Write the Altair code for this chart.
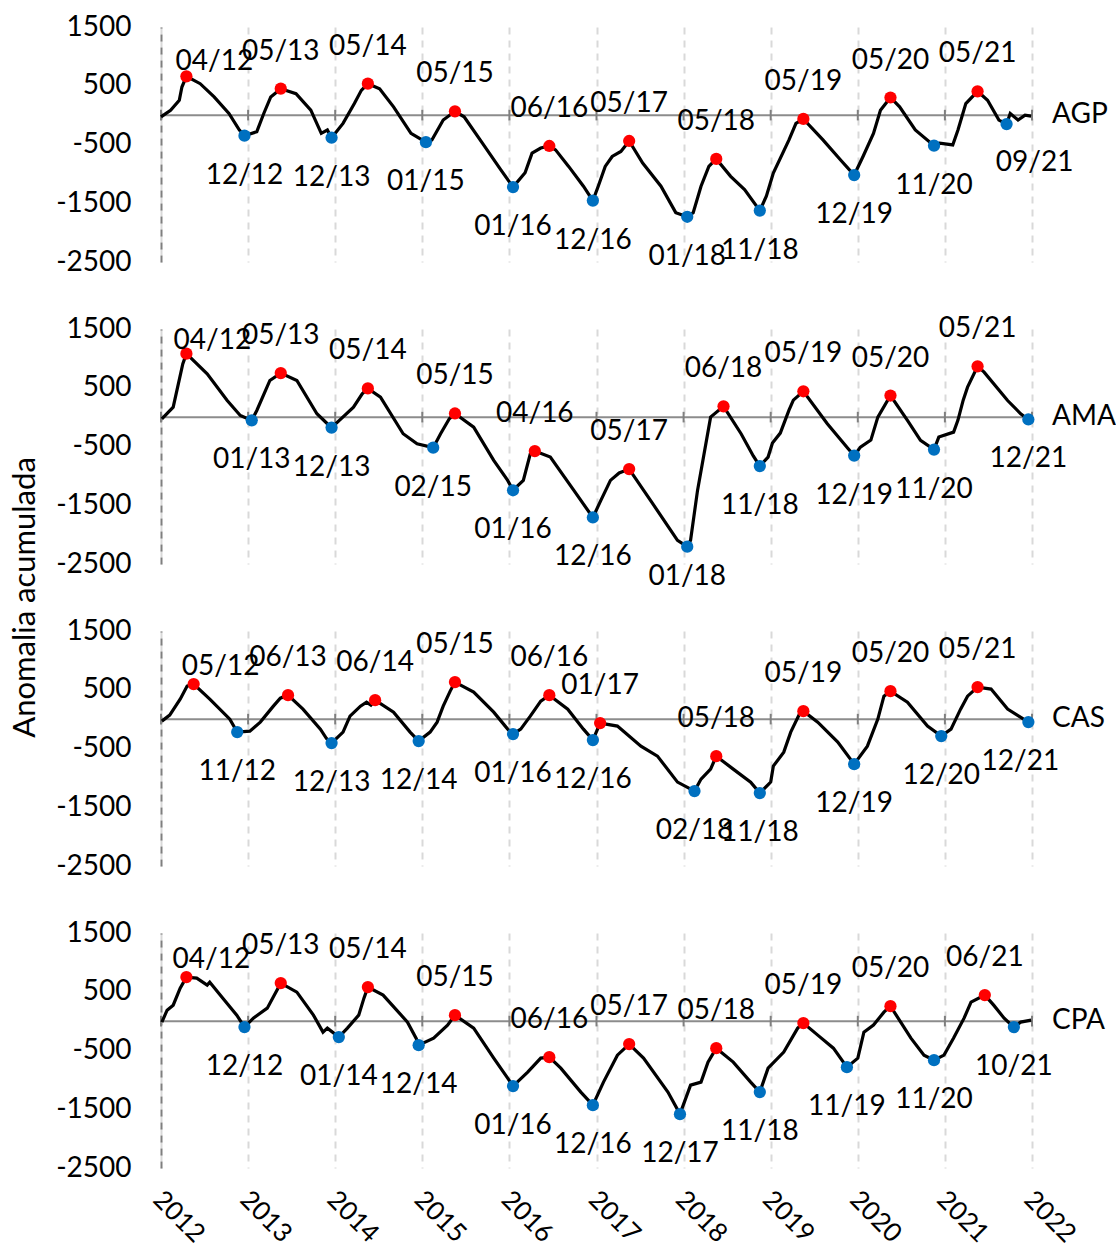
import altair as alt
import pandas as pd

YEARS = list(range(2012, 2023))
Y_TICKS = [-2500, -1500, -500, 500, 1500]

# ---------------- AGP ----------------
AGP_EXT_LABELS = ["04/12", "12/12", "05/13", "12/13", "05/14", "01/15", "05/15", "01/16", "06/16", "12/16",
                  "05/17", "01/18", "05/18", "11/18", "05/19", "12/19", "05/20", "11/20", "05/21", "09/21"]
AGP_EXT_VALUES = [660, -350, 450, -385, 535, -460, 65, -1225, -525, -1455,
                  -440, -1730, -745, -1625, -65, -1020, 300, -520, 405, -152]
AGP_LINE_X = [2012.00, 2012.11, 2012.21, 2012.24, 2012.45, 2012.61, 2012.78, 2012.90, 2013.10, 2013.18,
              2013.26, 2013.55, 2013.72, 2013.84, 2013.91, 2014.09, 2014.22, 2014.30, 2014.51, 2014.67,
              2014.87, 2015.11, 2015.24, 2015.48, 2015.69, 2015.90, 2016.18, 2016.26, 2016.36, 2016.53,
              2016.68, 2016.85, 2017.02, 2017.10, 2017.18, 2017.28, 2017.53, 2017.74, 2017.91, 2018.11,
              2018.20, 2018.29, 2018.54, 2018.70, 2018.95, 2019.03, 2019.21, 2019.29, 2019.60, 2019.80,
              2020.06, 2020.18, 2020.26, 2020.48, 2020.66, 2020.94, 2021.09, 2021.15, 2021.24, 2021.49,
              2021.62, 2021.75, 2021.84, 2021.92, 2021.99]
AGP_LINE_Y = [-30, 84, 253, 478, 535, 310, 28, -253, -282, 28,
              310, 366, 84, -310, -253, -141, 197, 422, 450, 141,
              -310, -422, -84, -28, -478, -929, -980, -647, -560, -591,
              -873, -1210, -1210, -873, -704, -619, -816, -1210, -1660, -1660,
              -1210, -873, -1041, -1267, -1379, -985, -422, -141, -422, -760,
              -704, -310, 84, 141, -253, -478, -507, -253, 197, 253,
              -84, 28, -84, 0, -17]

# ---------------- AMA ----------------
AMA_EXT_LABELS = ["04/12", "01/13", "05/13", "12/13", "05/14", "02/15", "05/15", "01/16", "04/16", "12/16",
                  "05/17", "01/18", "06/18", "11/18", "05/19", "12/19", "05/20", "11/20", "05/21", "12/21"]
AMA_EXT_VALUES = [1080, -55, 750, -178, 488, -520, 62, -1245, -578, -1708,
                  -885, -2205, 183, -833, 440, -655, 368, -552, 865, -40]
AMA_LINE_X = [2012.01, 2012.14, 2012.25, 2012.53, 2012.76, 2012.91, 2013.10, 2013.25, 2013.56, 2013.79,
              2013.91, 2014.21, 2014.31, 2014.52, 2014.78, 2014.94, 2015.21, 2015.31, 2015.59, 2015.82,
              2015.98, 2016.16, 2016.24, 2016.47, 2016.74, 2017.05, 2017.16, 2017.26, 2017.62, 2017.93,
              2018.08, 2018.16, 2018.31, 2018.66, 2018.80, 2018.97, 2019.02, 2019.11, 2019.21, 2019.26,
              2019.65, 2019.89, 2020.03, 2020.15, 2020.23, 2020.57, 2020.72, 2020.93, 2021.10, 2021.15,
              2021.21, 2021.26, 2021.45, 2021.72, 2021.87]
AMA_LINE_Y = [-28, 170, 907, 737, 283, 28, 113, 624, 624, 57,
              -113, 170, 397, 340, -283, -454, -283, -28, -170, -737,
              -1077, -1077, -624, -680, -1247, -1417, -1077, -950, -1417, -2097,
              -2097, -1247, 0, -283, -660, -680, -442, -272, 119, 289,
              -113, -539, -510, -391, 0, -57, -397, -340, -255, -51,
              289, 510, 765, 283, 57]

# ---------------- CAS ----------------
CAS_EXT_LABELS = ["05/12", "11/12", "06/13", "12/13", "06/14", "12/14", "05/15", "01/16", "06/16", "12/16",
                  "01/17", "02/18", "05/18", "11/18", "05/19", "12/19", "05/20", "12/20", "05/21", "12/21"]
CAS_EXT_VALUES = [596, -221, 408, -408, 323, -374, 630, -255, 408, -357,
                  -68, -1225, -630, -1259, 136, -766, 476, -289, 545, -51]
CAS_LINE_X = [2012.01, 2012.10, 2012.22, 2012.30, 2012.56, 2012.79, 2013.02, 2013.14, 2013.29, 2013.37,
              2013.63, 2013.83, 2013.90, 2014.09, 2014.17, 2014.29, 2014.36, 2014.41, 2014.67, 2014.86,
              2015.09, 2015.17, 2015.24, 2015.32, 2015.59, 2015.82, 2015.98, 2016.13, 2016.24, 2016.36,
              2016.67, 2016.85, 2017.24, 2017.51, 2017.70, 2017.93, 2018.20, 2018.31, 2018.57, 2018.77,
              2019.00, 2019.03, 2019.15, 2019.23, 2019.33, 2019.54, 2019.77, 2020.11, 2020.23, 2020.30,
              2020.57, 2020.80, 2021.07, 2021.18, 2021.26, 2021.53, 2021.72]
CAS_LINE_Y = [-34, 68, 340, 562, 340, 0, -204, -51, 221, 357,
              170, -170, -330, -221, 51, 221, 289, 240, 119, -221,
              -221, -51, 221, 477, 460, 119, -170, -170, 51, 306,
              170, -170, -119, -460, -630, -1072, -1021, -851, -851, -1072,
              -1072, -800, -562, -221, 85, -51, -391, -460, 0, 391,
              289, -119, -170, 170, 391, 511, 170]

# ---------------- CPA ----------------
CPA_EXT_LABELS = ["04/12", "12/12", "05/13", "01/14", "05/14", "12/14", "05/15", "01/16", "06/16", "12/16",
                  "05/17", "12/17", "05/18", "11/18", "05/19", "11/19", "05/20", "11/20", "06/21", "10/21"]
CPA_EXT_VALUES = [749, -102, 647, -272, 579, -409, 102, -1106, -613, -1430,
                  -391, -1583, -460, -1208, -34, -783, 255, -664, 443, -102]
CPA_LINE_X = [2012.01, 2012.07, 2012.14, 2012.22, 2012.41, 2012.53, 2012.56, 2012.71, 2012.87, 2013.06,
              2013.22, 2013.30, 2013.56, 2013.75, 2013.86, 2013.91, 2014.14, 2014.27, 2014.33, 2014.55,
              2014.83, 2014.93, 2015.13, 2015.29, 2015.59, 2015.82, 2015.98, 2016.21, 2016.36, 2016.59,
              2016.82, 2017.08, 2017.24, 2017.54, 2017.82, 2018.08, 2018.20, 2018.28, 2018.57, 2018.77,
              2018.97, 2019.15, 2019.31, 2019.54, 2019.72, 2020.00, 2020.07, 2020.18, 2020.30, 2020.61,
              2020.76, 2020.99, 2021.10, 2021.22, 2021.30, 2021.56, 2021.68, 2021.87, 2021.99]
CPA_LINE_Y = [-17, 187, 272, 562, 732, 613, 664, 391, 102, 51,
              221, 442, 494, 102, -187, -119, -119, 102, 391, 442,
              -17, -295, -289, -68, -119, -630, -970, -868, -630, -800,
              -1208, -1038, -579, -630, -1208, -1089, -1038, -698, -698, -1038,
              -800, -528, -119, -238, -460, -630, -187, -68, 153, -289,
              -579, -579, -289, 51, 323, 272, 51, -17, 17]

PANELS = [
    ("AGP", AGP_EXT_LABELS, AGP_EXT_VALUES, AGP_LINE_X, AGP_LINE_Y),
    ("AMA", AMA_EXT_LABELS, AMA_EXT_VALUES, AMA_LINE_X, AMA_LINE_Y),
    ("CAS", CAS_EXT_LABELS, CAS_EXT_VALUES, CAS_LINE_X, CAS_LINE_Y),
    ("CPA", CPA_EXT_LABELS, CPA_EXT_VALUES, CPA_LINE_X, CPA_LINE_Y),
]

# ---------------- layout / style ----------------
PLOT_W = 871
PLOT_H = 235
X_PER_PX = 10 / PLOT_W
Y_PER_PX = 4000 / PLOT_H
PEAK_DY = -37
TROUGH_DY = 40
NUDGES = {
    ("AGP", "04/12"): (28, -14), ("AGP", "09/21"): (28, 39),
    ("AMA", "04/12"): (26, -13), ("AMA", "01/18"): (0, 30),
    ("CAS", "05/12"): (27, -17), ("CAS", "12/21"): (-8, 40),
    ("CPA", "04/12"): (25, -17),
}
FONT = "Lato"
FS = 28
RED = "#ff0000"
BLUE = "#0070c0"


def month_pos(lbl):
    mm, yy = lbl.split("/")
    return 2000 + int(yy) + (int(mm) - 0.5) / 12


def make_panel(idx, name, ext_labels, ext_values, line_x, line_y):
    bottom = idx == len(PANELS) - 1
    rows = []
    for i, (lbl, v) in enumerate(zip(ext_labels, ext_values)):
        kind = "peak" if i % 2 == 0 else "trough"
        x = month_pos(lbl)
        dx, dy = NUDGES.get((name, lbl), (0, PEAK_DY if kind == "peak" else TROUGH_DY))
        rows.append({"x": x, "v": v, "label": lbl, "kind": kind,
                     "lx": x + dx * X_PER_PX, "ly": v - dy * Y_PER_PX})
    ext = pd.DataFrame(rows)
    line_df = pd.DataFrame(
        [{"x": a, "v": b} for a, b in zip(line_x, line_y)]
        + [{"x": r["x"], "v": r["v"]} for r in rows]
    ).sort_values("x")

    xscale = alt.Scale(domain=[2012, 2022], nice=False, zero=False)
    yscale = alt.Scale(domain=[-2500, 1500], nice=False, zero=False)

    if bottom:
        xaxis = alt.Axis(values=YEARS, format="d", labelAngle=45, labelAlign="left",
                         labelBaseline="top", labelPadding=18, labelOffset=5,
                         labelFontSize=26, grid=True,
                         domain=False, ticks=False, title=None, gridDash=[7, 6],
                         gridColor="#d9d9d9", gridWidth=2)
    else:
        xaxis = alt.Axis(values=YEARS, labels=False, grid=True, domain=False, ticks=False,
                         title=None, gridDash=[7, 6], gridColor="#d9d9d9", gridWidth=2)

    yargs = dict(values=Y_TICKS, ticks=False, grid=False, domain=True, domainDash=[7, 6],
                 domainColor="#7f7f7f", domainWidth=2, labelPadding=30,
                 labelExpr="'' + datum.value")
    if idx == 1:
        yaxis = alt.Axis(title="Anomalia acumulada", titleX=-136, titleY=268,
                         titleAngle=-90, titleBaseline="middle", titleAlign="center",
                         titleFontSize=31, **yargs)
    else:
        yaxis = alt.Axis(title=None, **yargs)

    line = alt.Chart(line_df).mark_line(color="black", strokeWidth=3.2).encode(
        x=alt.X("x:Q", scale=xscale, axis=xaxis),
        y=alt.Y("v:Q", scale=yscale, axis=yaxis),
    )
    zero = alt.Chart(pd.DataFrame({"v": [0]})).mark_rule(color="#8c8c8c", strokeWidth=2).encode(
        y=alt.Y("v:Q", scale=yscale)
    )
    ticks = alt.Chart(pd.DataFrame({"x": YEARS})).mark_rule(color="#7f7f7f", strokeWidth=2).encode(
        x=alt.X("x:Q", scale=xscale),
        y=alt.datum(-90),
        y2=alt.datum(90),
    )
    dots = alt.Chart(ext).mark_circle(size=150, opacity=1).encode(
        x=alt.X("x:Q", scale=xscale),
        y=alt.Y("v:Q", scale=yscale),
        color=alt.Color("kind:N", scale=alt.Scale(domain=["peak", "trough"], range=[RED, BLUE]),
                        legend=None),
    )
    labels = alt.Chart(ext).mark_text(font=FONT, fontSize=FS, color="black", align="center",
                                      baseline="middle").encode(
        x=alt.X("lx:Q", scale=xscale),
        y=alt.Y("ly:Q", scale=yscale),
        text="label:N",
    )
    name_txt = alt.Chart(pd.DataFrame({"name": [name]})).mark_text(
        font=FONT, fontSize=FS, color="black", align="left", baseline="middle", dx=20).encode(
        x=alt.datum(2022),
        y=alt.datum(0),
        text="name:N",
    )
    return alt.layer(zero, ticks, line, dots, labels, name_txt).properties(
        width=PLOT_W, height=PLOT_H)


charts = [make_panel(i, *p) for i, p in enumerate(PANELS)]

chart = alt.vconcat(*charts, spacing=67, bounds="flush").configure_view(
    stroke=None
).configure_axis(
    labelFont=FONT, labelFontSize=FS, labelColor="black",
    titleFont=FONT, titleFontSize=FS, titleColor="black", titleFontWeight="normal",
).properties(
    padding={"left": 8, "top": 13, "right": 0, "bottom": 0},
    background="white",
)

chart.save("out.html", embed_options={"renderer": "svg", "actions": False})
